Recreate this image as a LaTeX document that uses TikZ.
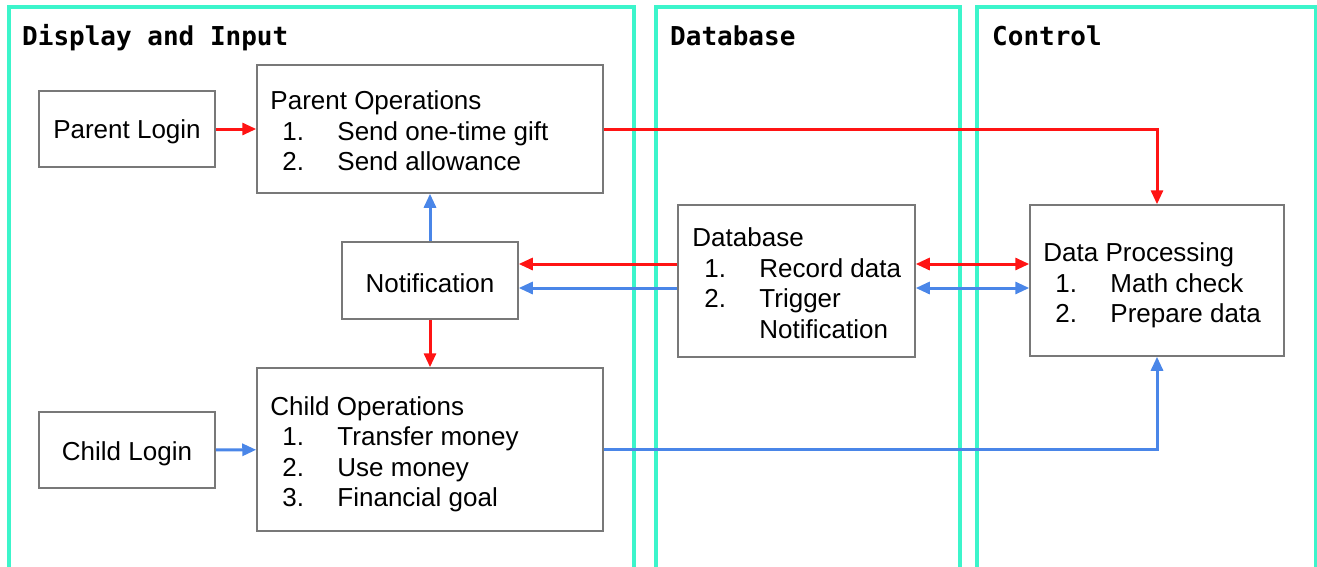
\documentclass[tikz,border=0pt]{standalone}
\usepackage{fontspec}
\setmainfont{Liberation Sans}
\newfontfamily\headfont{DejaVu Sans Mono}
\usetikzlibrary{arrows.meta}
\definecolor{lane}{HTML}{3CF5CB}
\definecolor{boxgray}{HTML}{787878}
\definecolor{ared}{HTML}{FF1414}
\definecolor{ablue}{HTML}{4A86E8}
\newcommand\itm[1]{\hspace*{12pt}\makebox[55pt][l]{#1}}
\tikzset{
  lanebox/.style={draw=lane, line width=3.5pt},
  lanehead/.style={anchor=base west, inner sep=0pt, font=\headfont\bfseries\fontsize{26}{30}\selectfont},
  box/.style={draw=boxgray, line width=1.5pt, fill=white, inner sep=0pt},
  txt/.style={inner sep=0pt, align=left, font=\fontsize{26}{30.5}\selectfont},
  tip/.style={-{Triangle[length=14pt,width=12pt]}},
  twotip/.style={{Triangle[length=14pt,width=12pt]}-{Triangle[length=14pt,width=12pt]}},
  redarrow/.style={draw=ared, line width=3pt, tip},
  bluearrow/.style={draw=ablue, line width=3pt, tip},
}
\begin{document}
\begin{tikzpicture}[x=1pt,y=-1pt]
\clip (0,0) rectangle (1317,566);
% lanes
\draw[lanebox] (9,7) rectangle (634,600);
\draw[lanebox] (656,7) rectangle (960,600);
\draw[lanebox] (977,7) rectangle (1316,600);
\node[lanehead] (h1) at (22,45) {Display and Input};
\node[lanehead] (h2) at (670,45) {Database};
\node[lanehead] (h3) at (992,45) {Control};
% boxes
\node[box, minimum width=176pt, minimum height=76pt] (pl) at (127,129) {};
\node[box, minimum width=176pt, minimum height=76pt] (cl) at (127,450) {};
\node[box, minimum width=176pt, minimum height=77pt] (nt) at (430,280.5) {};
\node[box, minimum width=346pt, minimum height=128pt] (po) at (430,129) {};
\node[box, minimum width=346pt, minimum height=163pt] (co) at (430,449.5) {};
\node[box, minimum width=237pt, minimum height=152pt] (db) at (796.5,281) {};
\node[box, minimum width=254pt, minimum height=151pt] (dp) at (1157,280.5) {};
% texts
\node[txt] (plt) at ([yshift=-3pt]pl.center) {Parent Login};
\node[txt] (clt) at ([yshift=-3.5pt]cl.center) {Child Login};
\node[txt] (ntt) at ([yshift=-3pt]nt.center) {Notification};
\node[txt, anchor=west] (pot) at ([xshift=14pt,yshift=-2pt]po.west)
  {Parent Operations\\ \itm{1.}Send one-time gift\\ \itm{2.}Send allowance};
\node[txt, anchor=west] (cot) at ([xshift=14pt,yshift=-5pt]co.west)
  {Child Operations\\ \itm{1.}Transfer money\\ \itm{2.}Use money\\ \itm{3.}Financial goal};
\node[txt, anchor=west] (dbt) at ([xshift=15pt,yshift=-2pt]db.west)
  {Database\\ \itm{1.}Record data\\ \itm{2.}Trigger\\ \hspace*{67pt}Notification};
\node[txt, anchor=west] (dpt) at ([xshift=14pt,yshift=-5pt]dp.west)
  {Data Processing\\ \itm{1.}Math check\\ \itm{2.}Prepare data};
% connectors
\draw[redarrow] (pl) -- (po);
\draw[bluearrow] (cl) -- (co);
\draw[bluearrow] (nt.north) -- (nt.north |- po.south);
\draw[redarrow] (nt.south) -- (nt.south |- co.north);
\draw[redarrow] (po.east) -| (dp.north);
\draw[bluearrow] (co.east) -| (dp.south);
\coordinate (dwr) at ([yshift=17pt]db.west);
\coordinate (dwb) at ([yshift=-7pt]db.west);
\coordinate (der) at ([yshift=17pt]db.east);
\coordinate (deb) at ([yshift=-7pt]db.east);
\draw[redarrow] (dwr) -- (dwr -| nt.east);
\draw[bluearrow] (dwb) -- (dwb -| nt.east);
\draw[redarrow, twotip] (der) -- (der -| dp.west);
\draw[bluearrow, twotip] (deb) -- (deb -| dp.west);
\end{tikzpicture}
\end{document}
